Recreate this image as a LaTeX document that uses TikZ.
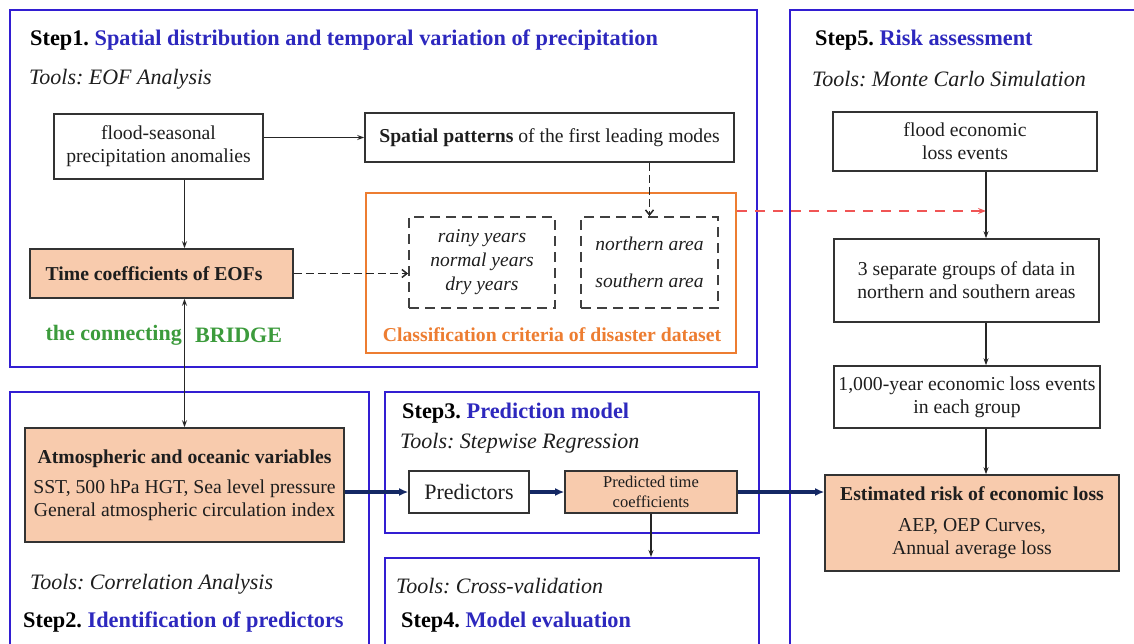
\documentclass[tikz,border=0pt]{standalone}
\usepackage{fontspec}
\setmainfont{Liberation Serif}
\usetikzlibrary{arrows.meta}
\frenchspacing
\definecolor{stepblue}{RGB}{45,40,190}
\definecolor{frameblue}{RGB}{50,30,210}
\definecolor{peach}{RGB}{248,203,173}
\definecolor{orng}{RGB}{237,125,49}
\definecolor{grn}{RGB}{60,155,60}
\definecolor{navy}{RGB}{20,40,100}
\definecolor{redd}{RGB}{240,85,85}
\definecolor{txt}{RGB}{30,30,30}
\tikzset{
  frame/.style={draw=frameblue, line width=2pt, inner sep=0pt},
  box/.style={draw=black!80, line width=1.6pt, fill=white, align=center, inner sep=0pt, text=txt, font=\fontsize{19.7}{23}\selectfont},
  fillbox/.style={box, fill=peach},
  dbox/.style={draw=black!75, line width=1.8pt, dash pattern=on 10pt off 6pt, align=center, inner sep=0pt, font=\fontsize{19.5}{24}\selectfont\itshape, text=txt},
  steptitle/.style={anchor=west, inner sep=0pt, font=\fontsize{22.3}{25}\selectfont\bfseries},
  toolstext/.style={anchor=west, inner sep=0pt, text=txt, font=\fontsize{22}{24}\selectfont\itshape},
  greentext/.style={inner sep=0pt, text=grn, font=\fontsize{22}{24}\selectfont\bfseries},
  arr/.style={draw=black!85, line width=1.3pt, -{Stealth[length=7pt,width=5pt]}},
  darr/.style={draw=black!85, line width=1.5pt, dash pattern=on 8pt off 4pt, -{Straight Barb[length=5pt,width=8pt]}},
  navyarr/.style={draw=navy, line width=3.2pt, -{Latex[length=9pt,width=8pt]}},
  redarr/.style={draw=redd, line width=1.8pt, dash pattern=on 10pt off 8pt, -{Stealth[length=8pt,width=6pt]}},
}
\begin{document}
\begin{tikzpicture}[x=1pt,y=-1pt]
\useasboundingbox (0,0) rectangle (1134,644);
\clip (0,0) rectangle (1134,644);
\fill[white] (0,0) rectangle (1134,644);
% frames
\node[frame, minimum width=747, minimum height=357] (s1) at (383.5,188.5) {};
\node[frame, minimum width=359, minimum height=270] (s2) at (189.5,527) {};
\node[frame, minimum width=374, minimum height=141] (s3) at (572,462.5) {};
\node[frame, minimum width=374, minimum height=100] (s4) at (572,608) {};
\node[frame, minimum width=370, minimum height=660] (s5) at (975,340) {};
% titles
\node[steptitle] (t1) at (30,40) {Step1. \textcolor{stepblue}{Spatial distribution and temporal variation of precipitation}};
\node[toolstext] (tl1) at (29,79) {Tools: EOF Analysis};
\node[steptitle] (t5) at (815,40) {Step5. \textcolor{stepblue}{Risk assessment}};
\node[toolstext] (tl5) at (812,79) {Tools: Monte Carlo Simulation};
\node[steptitle] (t3) at (402,413) {Step3. \textcolor{stepblue}{Prediction model}};
\node[toolstext] (tl3) at (400,443) {Tools: Stepwise Regression};
\node[toolstext] (tl4) at (396,586) {Tools: Cross-validation};
\node[steptitle] (t4) at (401,622) {Step4. \textcolor{stepblue}{Model evaluation}};
\node[toolstext] (tl2) at (30,584) {Tools: Correlation Analysis};
\node[steptitle] (t2) at (23,622) {Step2. \textcolor{stepblue}{Identification of predictors}};
% step 1 contents
\node[box, minimum width=209, minimum height=65] (flood) at (158.5,146.5) {flood-seasonal\\precipitation anomalies};
\node[box, minimum width=369, minimum height=49] (spatial) at (549.5,137.5) {\textbf{Spatial patterns} of the first leading modes};
\node[draw=orng, line width=2.2pt, minimum width=370, minimum height=160, inner sep=0pt] (class) at (551,273) {};
\node[dbox, minimum width=146, minimum height=91] (d1) at (482,262.5) {rainy years\\normal years\\dry years};
\node[dbox, minimum width=137, minimum height=91] (d2) at (649.5,262.5) {northern area\\[13pt]southern area};
\node[inner sep=0pt, text=orng, font=\fontsize{19.7}{23}\selectfont\bfseries] (classlbl) at (552,335) {Classification criteria of disaster dataset};
\node[fillbox, minimum width=263, minimum height=49, font=\fontsize{19.7}{23}\selectfont\bfseries] (timec) at (161.5,273.5) {Time coefficients of EOFs\hspace*{15pt}};
\node[greentext, anchor=east] (br1) at (182,335) {the connecting};
\node[greentext, anchor=west] (br2) at (195,335) {BRIDGE};
% step 2
\node[fillbox, minimum width=319, minimum height=114] (atmos) at (184.5,485) {\textbf{Atmospheric and oceanic variables}\\[7pt]SST, 500 hPa HGT, Sea level pressure\\General atmospheric circulation index};
% step 3
\node[box, minimum width=120, minimum height=42, font=\fontsize{22}{24}\selectfont] (predictors) at (469,492) {Predictors};
\node[fillbox, minimum width=172, minimum height=42, font=\fontsize{16.5}{20}\selectfont] (predicted) at (651,492) {Predicted time\\coefficients};
% step 5
\coordinate (chain) at (986,0);
\node[box, minimum width=264, minimum height=59] (floodecon) at (965,141.5) {flood economic\\loss events};
\node[box, minimum width=265, minimum height=83] (groups) at (966.5,280.5) {3 separate groups of data in\\northern and southern areas};
\node[box, minimum width=266, minimum height=62] (thousand) at (967,397) {1,000-year economic loss events\\in each group};
\node[fillbox, minimum width=294, minimum height=96] (estimated) at (972,523) {\textbf{Estimated risk of economic loss}\\[8pt]AEP, OEP Curves,\\Annual average loss};
% connectors
\draw[arr] (spatial.west -| flood.east) -- (spatial.west);
\draw[arr] (flood.south -| atmos.north) -- (timec.north -| atmos.north);
\draw[darr] (timec.east) -- (timec.east -| d1.west);
\draw[darr] (spatial.south -| d2.north) -- (d2.north);
\draw[draw=black!85, line width=1.3pt, {Stealth[length=7pt,width=5pt]}-{Stealth[length=7pt,width=5pt]}] (timec.south -| atmos.north) -- (atmos.north);
\draw[navyarr] (atmos.east |- predictors.west) -- (predictors.west);
\draw[navyarr] (predictors.east) -- (predicted.west);
\draw[navyarr] (predicted.east) -- (predicted.east -| estimated.west);
\draw[arr] (predicted.south) -- (predicted.south |- s4.north);
\coordinate (redend) at (986,211);
\draw[redarr] (class.east |- redend) -- (redend);
\draw[arr] (floodecon.south -| chain) -- (groups.north -| chain);
\draw[arr] (groups.south -| chain) -- (thousand.north -| chain);
\draw[arr] (thousand.south -| chain) -- (estimated.north -| chain);
\end{tikzpicture}
\end{document}
